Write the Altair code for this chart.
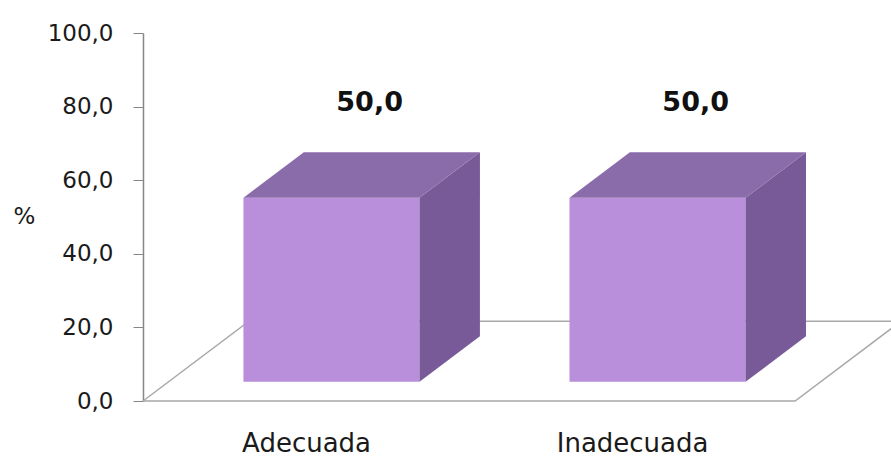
import json
import altair as alt
import pandas as pd

# --- data -------------------------------------------------------------
categories = ["Adecuada", "Inadecuada"]
values = [50.0, 50.0]
y_ticks = [0, 20, 40, 60, 80, 100]

# --- 3D box geometry (category units on x, percent units on y) ---------
DEPTH_DX = 0.325      # horizontal shift of the full floor depth
DEPTH_DY = 21.7       # vertical shift of the full floor depth
HALF_W = 0.27         # half width of a box front
Z_FRONT, Z_BACK = 0.24, 0.81   # box front / back depth fractions
Z_LABEL = 0.6

FRONT = "#B98EDB"
TOP = "#8B6CAA"
SIDE = "#775A97"
FLOOR = "#A8A8A8"
AXIS = "#868686"
FONT = "DejaVu Sans"

pos = [i + 0.5 for i in range(len(categories))]
n_cat = len(categories)

front_rows, side_rows, top_rows, label_rows = [], [], [], []
for c, name, v in zip(pos, categories, values):
    f_dx, f_dy = Z_FRONT * DEPTH_DX, Z_FRONT * DEPTH_DY
    b_dx, b_dy = Z_BACK * DEPTH_DX, Z_BACK * DEPTH_DY
    front_rows.append({"cat": name, "x0": c - HALF_W + f_dx, "x1": c + HALF_W + f_dx,
                       "y0": f_dy, "y1": v + f_dy})
    for dx, dy in [(f_dx, f_dy), (b_dx, b_dy)]:
        side_rows.append({"cat": name, "x": c + HALF_W + dx, "lo": dy, "hi": v + dy})
        top_rows.append({"cat": name, "y": v + dy, "left": c - HALF_W + dx,
                         "right": c + HALF_W + dx})
    label_rows.append({"cat": name, "value": v, "x": c + Z_LABEL * DEPTH_DX,
                       "y": v + Z_LABEL * DEPTH_DY})

front_df = pd.DataFrame(front_rows)
side_df = pd.DataFrame(side_rows)
top_df = pd.DataFrame(top_rows)
label_df = pd.DataFrame(label_rows)

floor_df = pd.DataFrame({
    "x": [0, n_cat, n_cat + DEPTH_DX, DEPTH_DX, 0],
    "y": [0, 0, DEPTH_DY, DEPTH_DY, 0],
    "k": [0, 1, 2, 3, 4],
})

x_scale = alt.Scale(domain=[0, 2.294], nice=False, zero=False)
y_scale = alt.Scale(domain=[0, 100], nice=False, zero=False)

x_axis = alt.Axis(
    values=pos,
    labelExpr=f"{json.dumps(categories)}[floor(datum.value)]",
    domain=False, ticks=False, grid=False, title=None,
    labelFont=FONT, labelFontSize=26, labelColor="#1a1a1a", labelPadding=29,
)
y_axis = alt.Axis(
    values=y_ticks,
    labelExpr="replace(format(datum.value, '.1f'), '.', ',')",
    grid=False, domainColor=AXIS, domainWidth=1.5, tickColor=AXIS, tickSize=10,
    labelFont=FONT, labelFontSize=23, labelColor="#1a1a1a", labelPadding=20,
    title="%", titleAngle=0, titleX=-119, titleY=183, titleAlign="center",
    titleBaseline="middle", titleFont=FONT, titleFontSize=23,
    titleFontWeight="normal", titleColor="#1a1a1a",
)

floor = alt.Chart(floor_df).mark_line(color=FLOOR, strokeWidth=1.5).encode(
    x=alt.X("x:Q", scale=x_scale, axis=x_axis),
    y=alt.Y("y:Q", scale=y_scale, axis=y_axis),
    order="k:O",
)

front = alt.Chart(front_df).mark_rect(color=FRONT).encode(
    x=alt.X("x0:Q", scale=x_scale), x2="x1:Q",
    y=alt.Y("y0:Q", scale=y_scale), y2="y1:Q",
)

side = alt.Chart(side_df).mark_area(color=SIDE, orient="vertical").encode(
    x=alt.X("x:Q", scale=x_scale),
    y=alt.Y("lo:Q", scale=y_scale), y2="hi:Q",
    detail="cat:N",
)

top = alt.Chart(top_df).mark_area(color=TOP, orient="horizontal").encode(
    y=alt.Y("y:Q", scale=y_scale),
    x=alt.X("left:Q", scale=x_scale), x2="right:Q",
    detail="cat:N",
)

labels = alt.Chart(label_df).transform_calculate(
    txt="replace(format(datum.value, '.1f'), '.', ',')"
).mark_text(font=FONT, fontSize=27, fontWeight="bold", color="#111111",
            baseline="middle", dy=-66).encode(
    x=alt.X("x:Q", scale=x_scale),
    y=alt.Y("y:Q", scale=y_scale),
    text="txt:N",
)

chart = alt.layer(floor, front, side, top, labels).properties(
    width=748, height=368,
    autosize=alt.AutoSizeParams(type="none"),
    padding={"left": 143, "top": 33, "right": 0, "bottom": 57},
    background="white",
).configure_view(strokeWidth=0)

chart.save("out.html", embed_options={"renderer": "svg", "actions": False})
